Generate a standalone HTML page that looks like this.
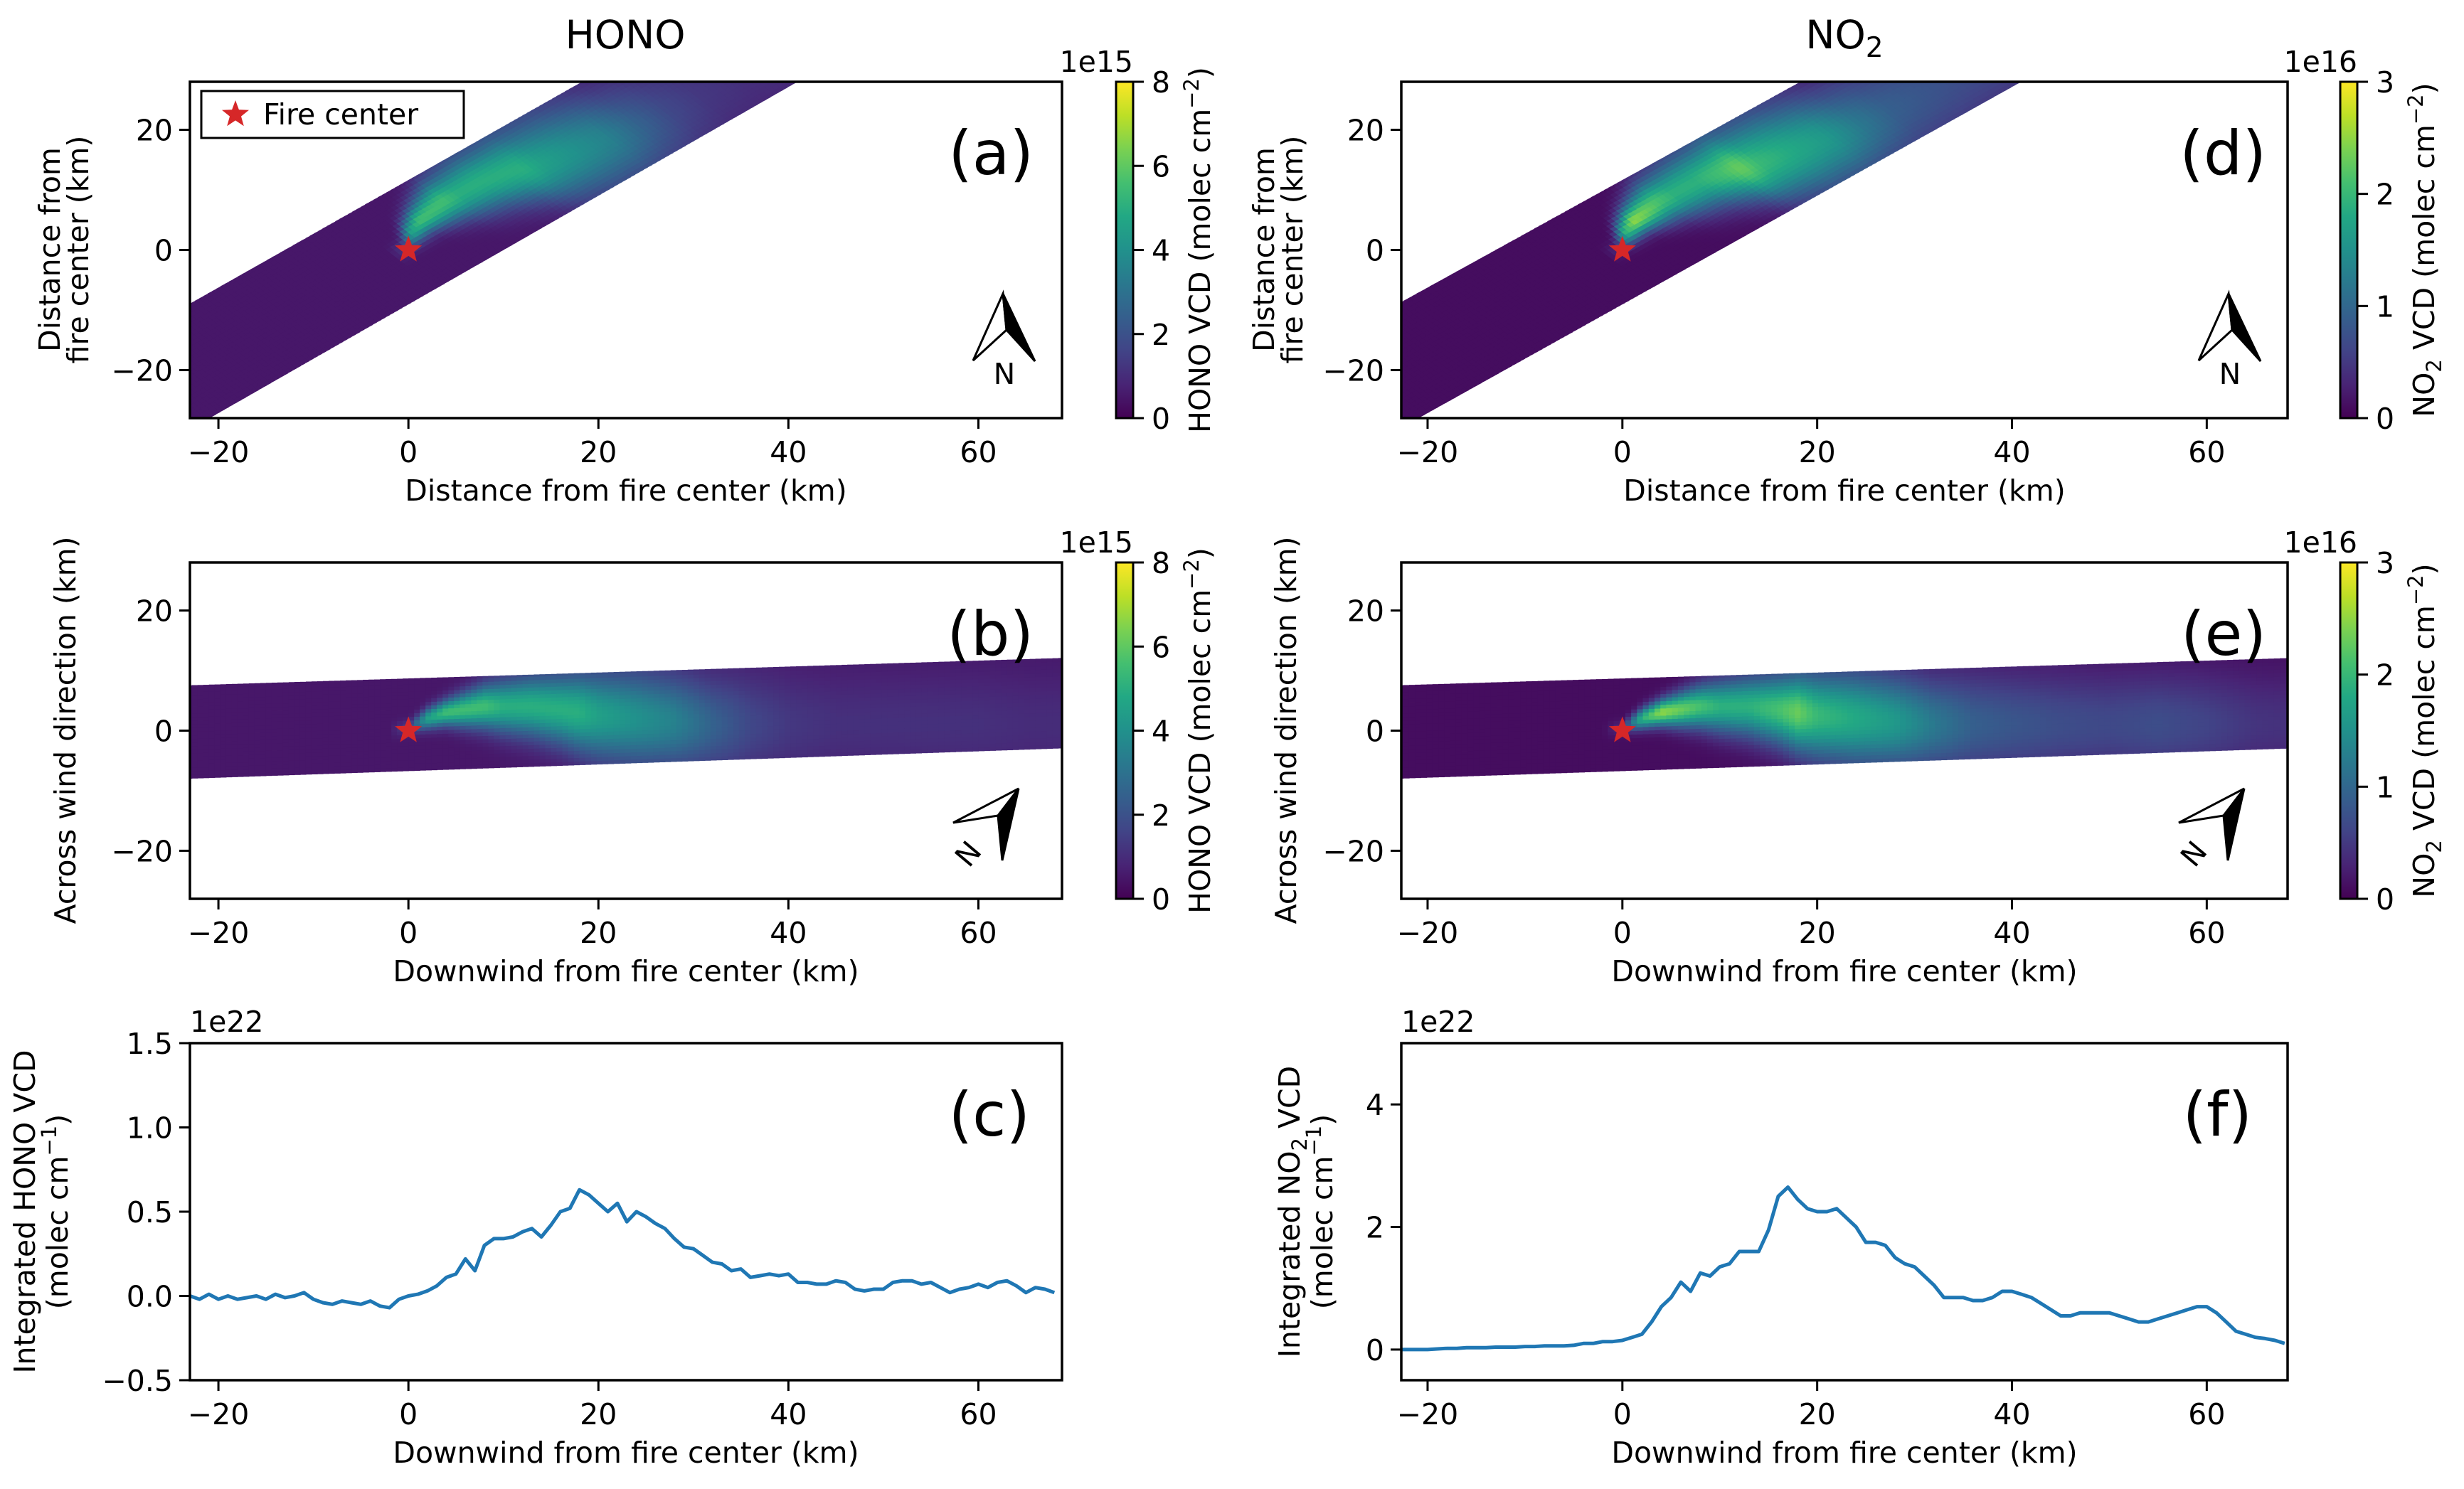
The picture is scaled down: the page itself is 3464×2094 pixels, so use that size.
<!DOCTYPE html>
<html><head><meta charset="utf-8">
<style>
html,body{margin:0;padding:0;background:#fff;}
svg{display:block;font-family:"DejaVu Sans","Liberation Sans",sans-serif;}
</style></head>
<body>
<svg id="fig" xmlns="http://www.w3.org/2000/svg" width="3464" height="2094" viewBox="0 0 3464 2094">
<defs>
<linearGradient id="viridis" x1="0" y1="1" x2="0" y2="0">
<stop offset="0" stop-color="#440154"/><stop offset="0.1" stop-color="#482475"/><stop offset="0.2" stop-color="#414487"/><stop offset="0.3" stop-color="#355f8d"/><stop offset="0.4" stop-color="#2a788e"/><stop offset="0.5" stop-color="#21918c"/><stop offset="0.6" stop-color="#22a884"/><stop offset="0.7" stop-color="#44bf70"/><stop offset="0.8" stop-color="#7ad151"/><stop offset="0.9" stop-color="#bddf26"/><stop offset="1" stop-color="#fde725"/>
</linearGradient>
</defs>
<text x="879" y="68" font-size="55" text-anchor="middle">HONO</text>
<text x="2593" y="68" font-size="55" text-anchor="middle">NO<tspan dy="12" font-size="39">2</tspan></text>
</svg>
<script>
// ---------- data ----------
const xTicks = [-20, 0, 20, 40, 60];
const mapYTicks = [-20, 0, 20];
const honoCbTicks = [0, 2, 4, 6, 8];
const no2CbTicks = [0, 1, 2, 3];
const honoLineYTicks = [-0.5, 0.0, 0.5, 1.0, 1.5];
const honoLineYLabels = ["−0.5", "0.0", "0.5", "1.0", "1.5"];
const no2LineYTicks = [0, 2, 4];
const no2LineYLabels = ["0", "2", "4"];

// plume model nodes (downwind km)
const plumeNodeS = [-40, -2, 0, 2, 4, 6, 8, 10, 13, 16, 18, 20, 24, 28, 32, 36, 40, 45, 50, 55, 60, 65, 70];
const plumeCenterT = [0, 0, 0.5, 2, 3, 3.5, 4, 4, 4, 3.5, 3, 2.5, 2, 1.5, 1, 1, 1, 1, 1, 1, 1, 1, 1];
const plumeWidthT = [1, 1, 0.8, 1.2, 1.5, 2, 2.5, 3, 3.5, 4, 4.5, 5, 5.5, 5.5, 5.5, 6, 6, 6, 6, 6, 6, 6, 6];
const honoPeak = [0, 0, 1, 4, 5, 5, 5, 4.5, 4.5, 4.5, 4.5, 4, 3.5, 3, 2, 1.2, 0.8, 0.6, 0.6, 0.6, 0.6, 0.5, 0.5];
const no2Peak = [0, 0, 0.3, 1.8, 2.4, 2.2, 2.0, 1.8, 1.8, 2.0, 2.2, 1.9, 1.7, 1.5, 1.1, 0.8, 0.7, 0.6, 0.55, 0.6, 0.5, 0.35, 0.3];
const honoBackground = [0.5];
const no2Background = [0.1];
const swathBottomT = [-8, -3];   // at s=-23 and s=68
const swathTopT = [7.5, 12];
const swathEndS = [-23, 68];

const lineS = [];
for (let s = -23; s <= 68; s++) lineS.push(s);
const honoIntegrated = [0.0,-0.02,0.01,-0.02,0.0,-0.02,-0.01,0.0,-0.02,0.01,-0.01,0.0,0.02,
 -0.02,-0.04,-0.05,-0.03,-0.04,-0.05,-0.03,-0.06,-0.07,-0.02,0.0,
 0.01,0.03,0.06,0.11,0.13,0.22,0.15,0.30,0.34,0.34,0.35,0.38,0.40,0.35,0.42,0.50,0.52,0.63,0.60,0.55,
 0.50,0.55,0.44,0.50,0.47,0.43,0.40,0.34,0.29,0.28,0.24,0.20,0.19,0.15,0.16,0.11,0.12,0.13,0.12,0.13,
 0.08,0.08,0.07,0.07,0.09,0.08,0.04,0.03,0.04,0.04,0.08,0.09,0.09,0.07,0.08,0.05,0.02,0.04,0.05,0.07,
 0.05,0.08,0.09,0.06,0.02,0.05,0.04,0.02,-0.03];
const no2Integrated = [0.0,0.0,0.0,0.0,0.01,0.02,0.02,0.03,0.03,0.03,0.04,0.04,0.04,0.05,0.05,0.06,0.06,0.06,0.07,0.10,0.10,0.13,0.13,
 0.15,0.2,0.25,0.45,0.7,0.85,1.1,0.95,1.25,1.2,1.35,1.4,1.6,1.6,1.6,1.95,2.5,2.65,2.45,2.3,
 2.25,2.25,2.3,2.15,2.0,1.75,1.75,1.7,1.5,1.4,1.35,1.2,1.05,0.85,0.85,0.85,0.8,0.8,0.85,0.95,
 0.95,0.9,0.85,0.75,0.65,0.55,0.55,0.6,0.6,0.6,0.6,0.55,0.5,0.45,0.45,0.5,0.55,0.6,0.65,0.7,
 0.7,0.6,0.45,0.3,0.25,0.2,0.18,0.15,0.1];

// ---------- helpers ----------
const NS = "http://www.w3.org/2000/svg";
const svg = document.getElementById("fig");
function mk(tag, attrs, parent) {
  const e = document.createElementNS(NS, tag);
  for (const k in attrs) e.setAttribute(k, attrs[k]);
  (parent || svg).appendChild(e);
  return e;
}
const vstops = ["#440154","#482475","#414487","#355f8d","#2a788e","#21918c","#22a884","#44bf70","#7ad151","#bddf26","#fde725"];
function hex(c){return [parseInt(c.substr(1,2),16),parseInt(c.substr(3,2),16),parseInt(c.substr(5,2),16)];}
const vrgb = vstops.map(hex);
function viridis(f){
  f=Math.max(0,Math.min(1,f));
  const p=f*10, i=Math.min(9,Math.floor(p)), r=p-i;
  const a=vrgb[i], b=vrgb[i+1];
  return "rgb("+a.map((v,j)=>Math.round(v+(b[j]-v)*r)).join(",")+")";
}
function interp(nodes, vals, s){
  if (s<=nodes[0]) return vals[0];
  for (let i=1;i<nodes.length;i++){
    if (s<=nodes[i]){const r=(s-nodes[i-1])/(nodes[i]-nodes[i-1]);return vals[i-1]+(vals[i]-vals[i-1])*r;}
  }
  return vals[vals.length-1];
}
function field(peaks, bg, s, t){
  const c=interp(plumeNodeS,plumeCenterT,s), w=interp(plumeNodeS,plumeWidthT,s), p=interp(plumeNodeS,peaks,s);
  return bg + p*Math.exp(-0.5*Math.pow((t-c)/w,2));
}
function swath(arr, s){return arr[0]+(arr[1]-arr[0])*(s-swathEndS[0])/(swathEndS[1]-swathEndS[0]);}

const cols = {
  L:{x0:267,x1:1493,xmin:-23,xmax:68.8,cbx:1569},
  R:{x0:1970,x1:3216,xmin:-22.7,xmax:68.3,cbx:3290}
};
const rows = {map:{y0:115,y1:588},wind:{y0:791,y1:1264},line:{y0:1467,y1:1941}};
let clipN=0;

function frame(col,row,name){
  const g=mk("g",{});
  
  
  return g;
}
function spine(c,r,g){
  const s=mk("rect",{x:c.x0,y:r.y0,width:c.x1-c.x0,height:r.y1-r.y0,fill:"none",stroke:"#000","stroke-width":3.5},g);
  
  
}
function xAxis(c,r,g,label){
  const sx=v=>c.x0+(v-c.xmin)/(c.xmax-c.xmin)*(c.x1-c.x0);
  xTicks.forEach(v=>{
    const x=sx(v);
    mk("line",{x1:x,x2:x,y1:r.y1,y2:r.y1+15,stroke:"#000","stroke-width":3},g);
    const t=mk("text",{x:x,y:r.y1+62,"font-size":41,"text-anchor":"middle"},g);
    t.textContent=(v<0?"−"+(-v):v);
    
    
  });
  const xl=mk("text",{x:(c.x0+c.x1)/2,y:r.y1+116,"font-size":41,"text-anchor":"middle"},g);
  xl.textContent=label;
  
  
}
function yAxis(c,r,g,ticks,labels,ymin,ymax){
  const sy=v=>r.y1-(v-ymin)/(ymax-ymin)*(r.y1-r.y0);
  ticks.forEach((v,i)=>{
    const y=sy(v);
    mk("line",{x1:c.x0-15,x2:c.x0,y1:y,y2:y,stroke:"#000","stroke-width":3},g);
    const t=mk("text",{x:c.x0-24,y:y+15,"font-size":41,"text-anchor":"end"},g);
    t.textContent=labels[i];
    
    
  });
  return sy;
}
function yTitle(x,yc,lines,g,dx){
  lines.forEach((ln,i)=>{
    const t=mk("text",{x:0,y:0,"font-size":41,"text-anchor":"middle",transform:"translate("+(x+i*dx)+","+yc+") rotate(-90)"},g);
    t.innerHTML=ln;
    
    
  });
}
function panelLetter(c,r,g,letter,dx){
  const t=mk("text",{x:c.x1-(dx||40),y:r.y0+130,"font-size":86,"text-anchor":"end"},g);
  t.textContent="("+letter+")";
  
  
}
function star(x,y,g,size){
  let pts=[];
  for(let i=0;i<10;i++){const a=-Math.PI/2+i*Math.PI/5, rr=i%2?size*0.42:size;pts.push((x+rr*Math.cos(a)).toFixed(1)+","+(y+rr*Math.sin(a)).toFixed(1));}
  const p=mk("polygon",{points:pts.join(" "),fill:"#d62728"},g);
  
  
}
function heatmap(c,r,g,peaks,bg,vmax,rot){
  const id="clip"+(clipN++);
  const cp=mk("clipPath",{id:id},g);
  mk("rect",{x:c.x0,y:r.y0,width:c.x1-c.x0,height:r.y1-r.y0},cp);
  const kx=(c.x1-c.x0)/(c.xmax-c.xmin), ky=(r.y1-r.y0)/56;
  const X0=c.x0+(0-c.xmin)*kx, Y0=r.y0+28*ky;
  const th=rot*Math.PI/180, cs=Math.cos(th), sn=Math.sin(th);
  const outer=mk("g",{"clip-path":"url(#"+id+")"},g);
  const cells=mk("g",{transform:"matrix("+[kx*cs,-ky*sn,-kx*sn,-ky*cs,X0,Y0].join(",")+")"},outer);
  
  
  const ds=0.6, dt=0.6;
  const smin = rot? -42 : c.xmin-1;
  for(let s=smin;s<=69;s+=ds){
    const lo=swath(swathBottomT,s+ds/2), hi=swath(swathTopT,s+ds/2);
    for(let t=lo;t<hi;t+=dt){
      const h=Math.min(dt,hi-t);
      const v=field(peaks,bg,s+ds/2,t+h/2);
      mk("rect",{x:s.toFixed(2),y:t.toFixed(2),width:ds+0.05,height:(h+0.05).toFixed(2),fill:viridis(v/vmax)},cells);
    }
  }
  star(X0,Y0,g,20);
}
function colorbar(c,r,g,ticks,unit,label){
  const x=c.cbx,w=24;
  const b=mk("rect",{x:x,y:r.y0,width:w,height:r.y1-r.y0,fill:"url(#viridis)",stroke:"#000","stroke-width":3},g);
  
  
  const vmax=ticks[ticks.length-1];
  ticks.forEach(v=>{
    const y=r.y1-v/vmax*(r.y1-r.y0);
    mk("line",{x1:x+w,x2:x+w+15,y1:y,y2:y,stroke:"#000","stroke-width":3},g);
    const t=mk("text",{x:x+w+26,y:y+15,"font-size":41},g);
    t.textContent=v;
    
    
  });
  const o=mk("text",{x:x+w,y:r.y0-14,"font-size":41,"text-anchor":"end"},g);
  o.textContent=unit;
  
  
  const l=mk("text",{x:0,y:0,"font-size":41,"text-anchor":"middle",transform:"translate("+(x+w+108)+","+((r.y0+r.y1)/2)+") rotate(-90)"},g);
  l.innerHTML=label;
  
  
}
function compassNorth(ox,g){
  const cg=mk("g",{},g);
  
  
  mk("polygon",{points:(1410+ox)+",413 "+(1368+ox)+",507 "+(1415+ox)+",464",fill:"#fff",stroke:"#000","stroke-width":3},cg);
  mk("polygon",{points:(1410+ox)+",413 "+(1415+ox)+",464 "+(1455+ox)+",508",fill:"#000",stroke:"#000","stroke-width":3},cg);
  const n=mk("text",{x:1412+ox,y:540,"font-size":41,"text-anchor":"middle"},cg);
  n.textContent="N";
}
function compassRot(ox,g){
  const cg=mk("g",{},g);
  
  
  mk("polygon",{points:(1432+ox)+",1109 "+(1340+ox)+",1157 "+(1403+ox)+",1147",fill:"#fff",stroke:"#000","stroke-width":3},cg);
  mk("polygon",{points:(1432+ox)+",1109 "+(1403+ox)+",1147 "+(1409+ox)+",1210",fill:"#000",stroke:"#000","stroke-width":3},cg);
  const n=mk("text",{x:0,y:0,"font-size":41,"text-anchor":"middle",transform:"translate("+(1372+ox)+","+1210+") rotate(-50)"},cg);
  n.textContent="N";
}
function linePanel(c,r,g,vals,ymin,ymax){
  const sx=v=>c.x0+(v-c.xmin)/(c.xmax-c.xmin)*(c.x1-c.x0);
  const sy=v=>r.y1-(v-ymin)/(ymax-ymin)*(r.y1-r.y0);
  const d=lineS.map((s,i)=>(i?"L":"M")+sx(s).toFixed(1)+","+sy(vals[i]).toFixed(1)).join("");
  const id="clip"+(clipN++);
  const cp=mk("clipPath",{id:id},g);
  mk("rect",{x:c.x0,y:r.y0,width:c.x1-c.x0,height:r.y1-r.y0},cp);
  const p=mk("path",{d:d,fill:"none",stroke:"#1f77b4","stroke-width":5,"stroke-linejoin":"round","clip-path":"url(#"+id+")"},g);
  
  
  const o=mk("text",{x:c.x0,y:r.y0-16,"font-size":41},g);
  o.textContent="1e22";
  
  
}

const mapLabels=["Distance from","fire center (km)"];
const CB_HONO='HONO VCD (molec cm<tspan dy="-16" font-size="29">−2</tspan><tspan dy="16">)</tspan>';
const CB_NO2='NO<tspan dy="10" font-size="29">2</tspan><tspan dy="-10"> VCD (molec cm</tspan><tspan dy="-16" font-size="29">−2</tspan><tspan dy="16">)</tspan>';

// (a)
let g=frame("L","map","panel-a-hono-map");
heatmap(cols.L,rows.map,g,honoPeak,honoBackground[0],8,39);
spine(cols.L,rows.map,g);
xAxis(cols.L,rows.map,g,"Distance from fire center (km)");
yAxis(cols.L,rows.map,g,mapYTicks,["−20","0","20"],-28,28);
yTitle(84,351,mapLabels,g,40);
panelLetter(cols.L,rows.map,g,"a");
compassNorth(0,g);
colorbar(cols.L,rows.map,g,honoCbTicks,"1e15",CB_HONO);
{ const lg=mk("g",{},g);
  
  
  mk("rect",{x:283,y:128,width:369,height:66,fill:"#fff",stroke:"#000","stroke-width":3},lg);
  star(331,161,lg,20);
  const lt=mk("text",{x:370,y:175,"font-size":41},lg); lt.textContent="Fire center";
  
   }
// (b)
g=frame("L","wind","panel-b-hono-wind");
heatmap(cols.L,rows.wind,g,honoPeak,honoBackground[0],8,0);
spine(cols.L,rows.wind,g);
xAxis(cols.L,rows.wind,g,"Downwind from fire center (km)");
yAxis(cols.L,rows.wind,g,mapYTicks,["−20","0","20"],-28,28);
yTitle(106,1027,["Across wind direction (km)"],g,0);
panelLetter(cols.L,rows.wind,g,"b");
compassRot(0,g);
colorbar(cols.L,rows.wind,g,honoCbTicks,"1e15",CB_HONO);
// (c)
g=frame("L","line","panel-c-hono-integrated");
linePanel(cols.L,rows.line,g,honoIntegrated,-0.5,1.5);
spine(cols.L,rows.line,g);
xAxis(cols.L,rows.line,g,"Downwind from fire center (km)");
yAxis(cols.L,rows.line,g,honoLineYTicks,honoLineYLabels,-0.5,1.5);
yTitle(49,1704,["Integrated HONO VCD",'(molec cm<tspan dy="-16" font-size="29">−1</tspan><tspan dy="16">)</tspan>'],g,46);
panelLetter(cols.L,rows.line,g,"c",45);
// (d)
g=frame("R","map","panel-d-no2-map");
heatmap(cols.R,rows.map,g,no2Peak,no2Background[0],3,39);
spine(cols.R,rows.map,g);
xAxis(cols.R,rows.map,g,"Distance from fire center (km)");
yAxis(cols.R,rows.map,g,mapYTicks,["−20","0","20"],-28,28);
yTitle(1791,351,mapLabels,g,40);
panelLetter(cols.R,rows.map,g,"d",30);
compassNorth(1723,g);
colorbar(cols.R,rows.map,g,no2CbTicks,"1e16",CB_NO2);
// (e)
g=frame("R","wind","panel-e-no2-wind");
heatmap(cols.R,rows.wind,g,no2Peak,no2Background[0],3,0);
spine(cols.R,rows.wind,g);
xAxis(cols.R,rows.wind,g,"Downwind from fire center (km)");
yAxis(cols.R,rows.wind,g,mapYTicks,["−20","0","20"],-28,28);
yTitle(1822,1027,["Across wind direction (km)"],g,0);
panelLetter(cols.R,rows.wind,g,"e",30);
compassRot(1723,g);
colorbar(cols.R,rows.wind,g,no2CbTicks,"1e16",CB_NO2);
// (f)
g=frame("R","line","panel-f-no2-integrated");
linePanel(cols.R,rows.line,g,no2Integrated,-0.5,5);
spine(cols.R,rows.line,g);
xAxis(cols.R,rows.line,g,"Downwind from fire center (km)");
yAxis(cols.R,rows.line,g,no2LineYTicks,no2LineYLabels,-0.5,5);
yTitle(1827,1704,['Integrated NO<tspan dy="10" font-size="29">2</tspan><tspan dy="-10"> VCD</tspan>','(molec cm<tspan dy="-16" font-size="29">−1</tspan><tspan dy="16">)</tspan>'],g,46);
panelLetter(cols.R,rows.line,g,"f",50);
</script>
</body></html>
